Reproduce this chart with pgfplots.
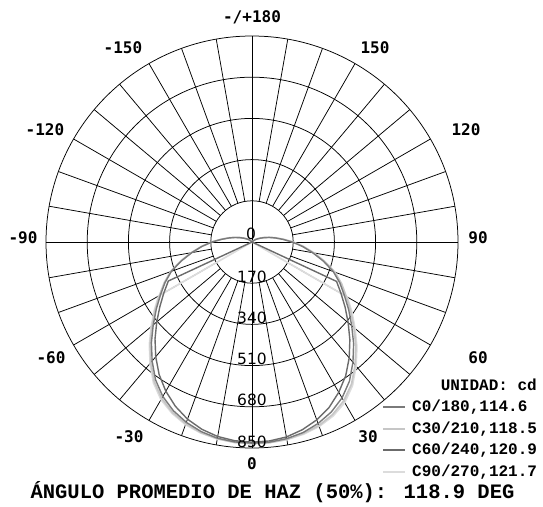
\documentclass[border=0pt]{standalone}
\usepackage{fontspec}
\usepackage{pgfplots}
\usepackage{pgfplotstable}
\pgfplotsset{compat=1.18}
\newfontfamily\monofam{Liberation Mono}
\newfontfamily\djmono{DejaVu Sans Mono}
\newfontfamily\djsans{DejaVu Sans}
\definecolor{cA}{HTML}{7A7A7A}
\definecolor{cB}{HTML}{C6C6C6}
\definecolor{cC}{HTML}{6B6B6B}
\definecolor{cD}{HTML}{DCDCDC}

\pgfplotstableread[row sep=\\]{
g r\\
-145 0\\ -140 2\\ -135 5\\ -130 10\\ -125 17\\ -120 26\\ -115 37\\ -110 52\\ -105 72\\ -100 96\\
-95 126\\ -90 165\\ -85 207\\ -80 252\\ -75 302\\ -70 354\\ -65 396\\ -60 436\\ -55 482\\ -50 532\\
-45 587\\ -40 641\\ -35 694\\ -30 736\\ -25 768\\ -20 792\\ -15 810\\ -10 822\\ -5 828\\ 0 830\\
5 829\\ 10 824\\ 15 814\\ 20 797\\ 25 774\\ 30 743\\ 35 701\\ 40 648\\ 45 593\\ 50 537\\
55 487\\ 60 440\\ 65 400\\ 70 357\\ 75 305\\ 80 254\\ 85 209\\ 90 166\\ 95 127\\ 100 97\\
105 73\\ 110 52\\ 115 37\\ 120 26\\ 125 17\\ 130 10\\ 135 5\\ 140 2\\ 145 0\\
}\tcA

\pgfplotstableread[row sep=\\]{
g r\\
-145 0\\ -140 2\\ -135 5\\ -130 11\\ -125 18\\ -120 27\\ -115 38\\ -110 53\\ -105 74\\ -100 98\\
-95 128\\ -90 167\\ -85 209\\ -80 255\\ -75 305\\ -70 358\\ -65 400\\ -60 441\\ -55 487\\ -50 538\\
-45 594\\ -40 649\\ -35 703\\ -30 745\\ -25 776\\ -20 798\\ -15 814\\ -10 824\\ -5 830\\ 0 832\\
5 831\\ 10 827\\ 15 818\\ 20 806\\ 25 786\\ 30 757\\ 35 716\\ 40 662\\ 45 606\\ 50 549\\
55 497\\ 60 449\\ 65 408\\ 70 364\\ 75 311\\ 80 260\\ 85 213\\ 90 170\\ 95 130\\ 100 99\\
105 74\\ 110 54\\ 115 38\\ 120 27\\ 125 18\\ 130 10\\ 135 5\\ 140 2\\ 145 0\\
}\tcB

\pgfplotstableread[row sep=\\]{
g r\\
-70 0\\ -65 381\\ -60 420\\ -55 464\\ -50 513\\ -45 566\\ -40 618\\ -35 668\\ -30 711\\ -25 748\\
-20 778\\ -15 800\\ -10 815\\ -5 823\\ 0 826\\ 5 824\\ 10 817\\ 15 802\\ 20 781\\ 25 753\\
30 716\\ 35 674\\ 40 624\\ 45 571\\ 50 518\\ 55 469\\ 60 424\\ 65 385\\ 70 0\\
}\tcC

\pgfplotstableread[row sep=\\]{
g r\\
-65 0\\ -60 445\\ -55 492\\ -50 543\\ -45 599\\ -40 654\\ -35 709\\ -30 751\\ -25 780\\ -20 802\\
-15 816\\ -10 825\\ -5 830\\ 0 832\\ 5 831\\ 10 828\\ 15 821\\ 20 810\\ 25 792\\ 30 765\\
35 723\\ 40 668\\ 45 612\\ 50 555\\ 55 503\\ 60 454\\ 65 0\\
}\tcD

\begin{document}
\begin{tikzpicture}[x=1pt,y=1pt]
\useasboundingbox (-46,-58) rectangle (497,448);
% polar grid
\begin{scope}[shift={(206,206)}, line width=0.75pt, black]
  \foreach \r in {41.2,82.4,123.6,164.8,206} \draw (0,0) circle[radius=\r];
  \draw (-206,0) -- (206,0);
  \draw (0,-206) -- (0,206);
  \foreach \a in {10,20,...,350} \draw (\a:41.2) -- (\a:206);
\end{scope}
\begin{axis}[at={(0,0)}, anchor=south west, scale only axis,
  width=412pt, height=412pt,
  xmin=-850, xmax=850, ymin=-850, ymax=850,
  hide axis, clip=false]
  \addplot[draw=cD, line width=1.7pt, no markers, line join=round]
    table[x expr={\thisrow{r}*sin(\thisrow{g})}, y expr={-\thisrow{r}*cos(\thisrow{g})}] {\tcD};
  \addplot[draw=cB, line width=1.7pt, no markers, line join=round]
    table[x expr={\thisrow{r}*sin(\thisrow{g})}, y expr={-\thisrow{r}*cos(\thisrow{g})}] {\tcB};
  \addplot[draw=cA, line width=1.4pt, no markers, line join=round]
    table[x expr={\thisrow{r}*sin(\thisrow{g})}, y expr={-\thisrow{r}*cos(\thisrow{g})}] {\tcA};
  \addplot[draw=cC, line width=1.4pt, no markers, line join=round]
    table[x expr={\thisrow{r}*sin(\thisrow{g})}, y expr={-\thisrow{r}*cos(\thisrow{g})}] {\tcC};
\end{axis}
% angle labels
\begin{scope}[every node/.style={inner sep=0pt, anchor=center, font=\djmono\bfseries\fontsize{16}{18}\selectfont}]
  \node at (206,431) {-/+180};
  \node at (77,400) {-150};
  \node at (329,400) {150};
  \node at (-1,318) {-120};
  \node at (420,318) {120};
  \node at (-23,210) {-90};
  \node at (432,210) {90};
  \node at (5,90) {-60};
  \node at (432,90) {60};
  \node at (83,11) {-30};
  \node at (322,11) {30};
  \node at (206,-16) {0};
\end{scope}
% ring labels
\begin{scope}[every node/.style={inner sep=0pt, anchor=center, font=\djsans\fontsize{15.5}{17}\selectfont}]
  \node at (205,214) {0};
  \node at (206,171) {170};
  \node at (206,130) {340};
  \node at (206,89) {510};
  \node at (206,48) {680};
  \node at (206,6) {850};
\end{scope}
% legend
\begin{scope}[every node/.style={inner sep=0pt, font=\monofam\bfseries\fontsize{16}{18}\selectfont}]
  \node[anchor=base east] at (491,58) {UNIDAD: cd};
  \draw[cA, line width=2pt] (337,41) -- (359,41);
  \node[anchor=base west] at (366,36.5) {C0/180,114.6};
  \draw[cB, line width=2pt] (337,19.5) -- (359,19.5);
  \node[anchor=base west] at (366,15) {C30/210,118.5};
  \draw[cC, line width=2pt] (337,-2) -- (359,-2);
  \node[anchor=base west] at (366,-6.5) {C60/240,120.9};
  \draw[cD, line width=2pt] (337,-23.5) -- (359,-23.5);
  \node[anchor=base west] at (366,-28) {C90/270,121.7};
\end{scope}
\node[inner sep=0pt, anchor=base, font=\monofam\bfseries\fontsize{20.5}{22}\selectfont] at (226.5,-50) {ÁNGULO PROMEDIO DE HAZ (50\%): 118.9 DEG};
\end{tikzpicture}
\end{document}
